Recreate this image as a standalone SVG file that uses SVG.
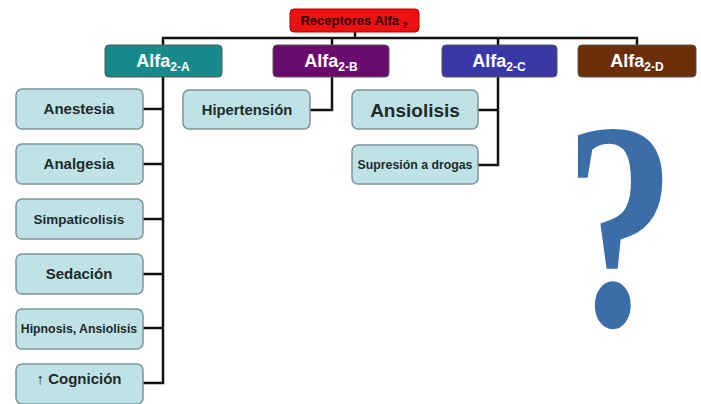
<svg xmlns="http://www.w3.org/2000/svg" width="701" height="404" viewBox="0 0 701 404">
<defs>
<style>
.con{fill:none;stroke:#111;stroke-width:2.5}
.lb{fill:#bfe2e6;stroke:#7d9496;stroke-width:1.5}
.lt{font-family:"Liberation Sans",Arial,sans-serif;font-weight:bold;fill:#1e2a2c;text-anchor:middle}
.al{font-family:"Liberation Sans",Arial,sans-serif;font-weight:bold;fill:#ffffff;text-anchor:middle;font-size:18px}
.sub{font-size:12px}
.ab{stroke:#555;stroke-width:1}
</style>
</defs>
<rect width="701" height="404" fill="#ffffff"/>
<g id="connectors">
<polyline class="con" points="355,32 355,38"/>
<polyline class="con" points="163,45 163,38 637,38 637,45"/>
<polyline class="con" points="332,38 332,45"/>
<polyline class="con" points="498,38 498,45"/>
<polyline class="con" points="163,77 163,383 143,383"/>
<polyline class="con" points="143,109 163,109"/>
<polyline class="con" points="143,164 163,164"/>
<polyline class="con" points="143,219 163,219"/>
<polyline class="con" points="143,274 163,274"/>
<polyline class="con" points="143,328 163,328"/>
<polyline class="con" points="332,77 332,110 310,110"/>
<polyline class="con" points="498,77 498,165 478,165"/>
<polyline class="con" points="478,110 498,110"/>
</g>
<g id="root">
<rect x="290" y="9" width="129" height="23" rx="4" fill="#ee1111" stroke="#aa0000" stroke-width="1"/>
<text x="354" y="25" font-family="'Liberation Sans',Arial,sans-serif" font-size="13" font-weight="bold" fill="#2a0000" text-anchor="middle">Receptores  Alfa <tspan font-size="9" dy="3">2</tspan></text>
</g>
<g id="alfa2a">
<rect x="105" y="45" width="117" height="32" rx="4" fill="#178b8c" class="ab"/>
<text x="163" y="67" class="al">Alfa<tspan class="sub" dy="4">2-A</tspan></text>
</g>
<g id="alfa2b">
<rect x="273" y="45" width="116" height="32" rx="4" fill="#6a0a6c" class="ab"/>
<text x="331" y="67" class="al">Alfa<tspan class="sub" dy="4">2-B</tspan></text>
</g>
<g id="alfa2c">
<rect x="442" y="45" width="115" height="32" rx="4" fill="#3838a6" class="ab"/>
<text x="499" y="67" class="al">Alfa<tspan class="sub" dy="4">2-C</tspan></text>
</g>
<g id="alfa2d">
<rect x="578" y="45" width="118" height="32" rx="4" fill="#6b2f08" class="ab"/>
<text x="637" y="67" class="al" fill="#f4efe6">Alfa<tspan class="sub" dy="4">2-D</tspan></text>
</g>
<g id="anestesia">
<rect class="lb" x="16" y="89" width="127" height="40" rx="6"/>
<text class="lt" x="79" y="114" font-size="15">Anestesia</text>
</g>
<g id="analgesia">
<rect class="lb" x="16" y="144" width="127" height="40" rx="6"/>
<text class="lt" x="79" y="169" font-size="15">Analgesia</text>
</g>
<g id="simpaticolisis">
<rect class="lb" x="16" y="199" width="127" height="40" rx="6"/>
<text class="lt" x="79" y="224" font-size="13.5">Simpaticolisis</text>
</g>
<g id="sedacion">
<rect class="lb" x="16" y="254" width="127" height="40" rx="6"/>
<text class="lt" x="79" y="279" font-size="15">Sedación</text>
</g>
<g id="hipnosis">
<rect class="lb" x="16" y="309" width="127" height="40" rx="6"/>
<text class="lt" x="79" y="333" font-size="12.3">Hipnosis, Ansiolisis</text>
</g>
<g id="cognicion">
<rect class="lb" x="16" y="364" width="127" height="40" rx="6"/>
<text class="lt" x="79" y="384" font-size="15">↑ Cognición</text>
</g>
<g id="hipertension">
<rect class="lb" x="183" y="90" width="127" height="39" rx="6"/>
<text class="lt" x="247" y="115" font-size="14.8">Hipertensión</text>
</g>
<g id="ansiolisis">
<rect class="lb" x="352" y="90" width="126" height="39" rx="6"/>
<text class="lt" x="415" y="117" font-size="19">Ansiolisis</text>
</g>
<g id="supresion">
<rect class="lb" x="352" y="145" width="126" height="39" rx="6"/>
<text class="lt" x="415" y="169" font-size="12.3">Supresión a drogas</text>
</g>
<g id="question">
<text transform="translate(620,325) scale(0.75,1)" x="0" y="0" font-family="'Liberation Serif','Times New Roman',serif" font-weight="bold" font-size="296" fill="#3b6ea8" text-anchor="middle">?</text>
</g>
</svg>
